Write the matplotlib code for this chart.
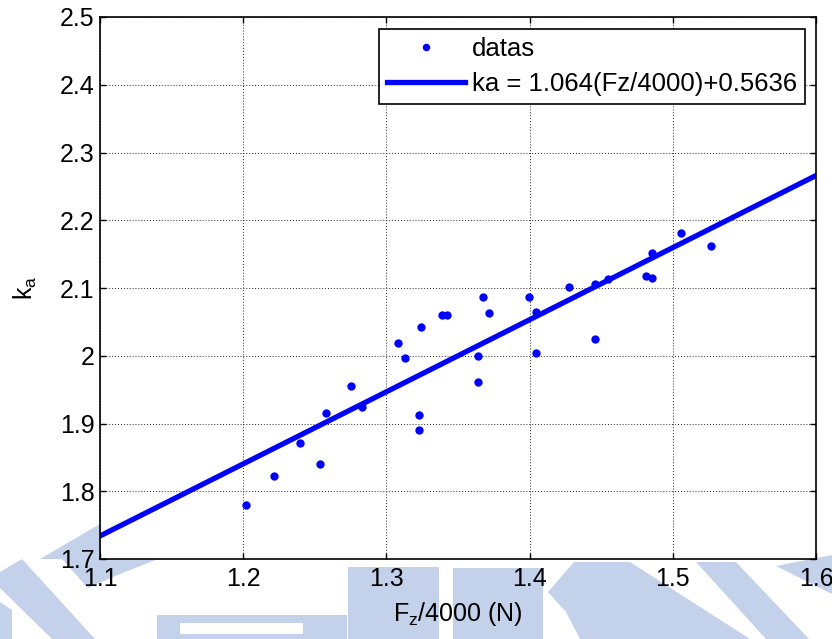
import matplotlib
matplotlib.use("Agg")
import matplotlib.pyplot as plt
from matplotlib.patches import Polygon
import numpy as np

plt.rcParams['font.family'] = ['Liberation Sans', 'DejaVu Sans']
plt.rcParams['mathtext.default'] = 'regular'

# ---- data ----
fz_norm = [1.2018, 1.2213, 1.2395, 1.2534, 1.2576, 1.2750, 1.2829, 1.3080,
           1.3127, 1.3243, 1.3231, 1.3231, 1.3385, 1.3420, 1.3673, 1.3713,
           1.3643, 1.3643, 1.3999, 1.4045, 1.4045, 1.4273, 1.4457, 1.4457,
           1.4546, 1.4810, 1.4857, 1.4857, 1.5060, 1.5270]
ka_vals = [1.779, 1.822, 1.871, 1.840, 1.915, 1.956, 1.925, 2.019,
           1.997, 2.043, 1.912, 1.890, 2.060, 2.060, 2.087, 2.063,
           2.000, 1.961, 2.087, 2.065, 2.004, 2.101, 2.106, 2.024,
           2.113, 2.118, 2.115, 2.152, 2.181, 2.162]
fit_slope = 1.064
fit_intercept = 0.5636
fit_x_range = [1.1, 1.6]
x_ticks = [1.1, 1.2, 1.3, 1.4, 1.5, 1.6]
x_tick_labels = ['1.1', '1.2', '1.3', '1.4', '1.5', '1.6']
y_ticks = [1.7, 1.8, 1.9, 2.0, 2.1, 2.2, 2.3, 2.4, 2.5]
y_tick_labels = ['1.7', '1.8', '1.9', '2', '2.1', '2.2', '2.3', '2.4', '2.5']
legend_labels = ['datas', 'ka = 1.064(Fz/4000)+0.5636']

W, H = 832, 639
fig = plt.figure(figsize=(W / 100, H / 100), dpi=100)
fig.patch.set_facecolor('white')

# ---- faint background watermark (decoration) ----
def px(pts):
    return [(x / W, 1 - y / H) for x, y in pts]

wm = '#c3d1ea'
shapes = [
    [(0, 572), (22, 559), (95, 639), (52, 639), (0, 588)],
    [(62, 559), (158, 559), (120, 574), (88, 588)],
    [(40, 559), (100, 524), (100, 559)],
    [(0, 602), (12, 610), (12, 639), (0, 639)],
    [(157, 615), (347, 615), (347, 639), (157, 639)],
    [(348, 567), (439, 567), (439, 639), (348, 639)],
    [(453, 568), (543, 568), (543, 639), (453, 639)],
    [(548, 592), (574, 562), (630, 562), (750, 639), (580, 639), (566, 612)],
    [(696, 562), (736, 562), (809, 639), (766, 639)],
    [(776, 566), (832, 555), (832, 594)],
]
for s in shapes:
    fig.patches.append(Polygon(px(s), closed=True, transform=fig.transFigure,
                               facecolor=wm, edgecolor='none', zorder=-5))
fig.patches.append(Polygon(px([(180, 623), (303, 623), (303, 634), (180, 634)]),
                           closed=True, transform=fig.transFigure,
                           facecolor='white', edgecolor='none', zorder=-4))

ax = fig.add_axes([100 / W, 1 - 559 / H, (816 - 100) / W, (559 - 17) / H])
ax.set_facecolor('white')
ax.set_zorder(1)

blue = '#0000ff'
ax.plot(fz_norm, ka_vals, linestyle='none', marker='o', markersize=6,
        color=blue, markeredgewidth=0, label=legend_labels[0], zorder=3)
xf = np.array(fit_x_range)
ax.plot(xf, fit_slope * xf + fit_intercept, color=blue, linewidth=3.8,
        label=legend_labels[1], zorder=2)

ax.set_xlim(1.1, 1.6)
ax.set_ylim(1.7, 2.5)
ax.set_xticks(x_ticks)
ax.set_xticklabels(x_tick_labels)
ax.set_yticks(y_ticks)
ax.set_yticklabels(y_tick_labels)

ax.grid(True, color='black', linestyle=(0, (1, 2)), linewidth=0.7, alpha=0.85)
ax.tick_params(direction='in', length=4, width=1, top=True, right=True,
               labelsize=18, colors='black')
ax.tick_params(axis='x', pad=6)
ax.tick_params(axis='y', pad=4)
for sp in ax.spines.values():
    sp.set_linewidth(1.2)
    sp.set_color('black')

ax.set_xlabel(r'$F_z$/4000 (N)', fontsize=18, labelpad=6)
ax.set_ylabel(r'$k_a$', fontsize=18, labelpad=15)

leg = ax.legend(loc='upper right', bbox_to_anchor=(805 / W, 1 - 29 / H),
                bbox_transform=fig.transFigure, borderaxespad=0,
                fontsize=18.5, fancybox=False, framealpha=1, edgecolor='black',
                handlelength=3.05, handletextpad=0.25, borderpad=0.31,
                labelspacing=0.42, markerscale=0.9)
leg.get_frame().set_linewidth(1.2)

fig.savefig('out.png', dpi=100, facecolor='white')
